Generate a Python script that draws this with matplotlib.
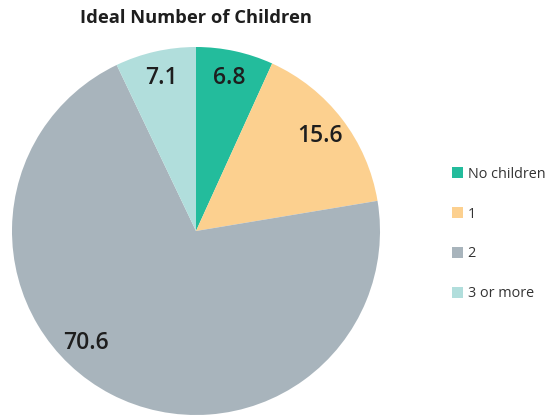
import numpy as np
import matplotlib.pyplot as plt
from matplotlib.patches import Patch

plt.rcParams['font.family'] = ['Open Sans', 'DejaVu Sans']

# data
categories = ["No children", "1", "2", "3 or more"]
values = [6.8, 15.6, 70.6, 7.1]
colors = ["#23bc9c", "#fcd08f", "#a8b4bc", "#b1dedc"]
# angular nudge (deg, counter-clockwise) for each value label
label_nudge = [0, 0, -17, 0]

fig = plt.figure(figsize=(5.47, 4.15), dpi=100)
ax = fig.add_axes([12 / 547, 0, 368 / 547, 368 / 415])

wedges, _ = ax.pie(values, colors=colors, startangle=90, counterclock=False,
                   wedgeprops=dict(linewidth=0))
ax.set_xlim(-1, 1)
ax.set_ylim(-1, 1)
ax.set_aspect("equal")

# value labels at the wedge middles
for w, v, nudge in zip(wedges, values, label_nudge):
    ang = np.deg2rad((w.theta1 + w.theta2) / 2 + nudge)
    r = 0.85
    ax.text(r * np.cos(ang), r * np.sin(ang), f"{v:.1f}", ha="center", va="center",
            fontsize=16.5, fontweight="semibold", color="#1e1e1e")

fig.text(196 / 547, 1 - 18 / 415, "Ideal Number of Children", ha="center", va="center",
         fontsize=13.2, fontweight="bold", color="#1e1e1e")

handles = [Patch(facecolor=c, edgecolor="none") for c in colors]
leg = fig.legend(handles, categories, loc="center left", bbox_to_anchor=(439 / 547, 0.436),
                 frameon=False, fontsize=10.4, labelspacing=1.72, handlelength=0.78,
                 handleheight=0.78, handletextpad=0.3)
for t in leg.get_texts():
    t.set_color("#333333")

fig.savefig("out.png", dpi=100)
